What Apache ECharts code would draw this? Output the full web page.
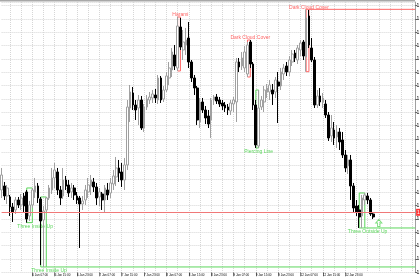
<!DOCTYPE html>
<html><head><meta charset="utf-8">
<script src="https://cdn.jsdelivr.net/npm/echarts@6/dist/echarts.min.js"></script>
<style>html,body{margin:0;padding:0;background:#fff}#c{width:420px;height:280px}</style>
</head><body><div id="c"></div>
<script>
// H1 bars, first bar = 5 Jan 20:00, weekend gap after 9 Jan 23:00
const opens = [1.1967,1.1979,1.1949,1.1946,1.1916,1.1907,1.1937,1.1922,1.1949,1.1961,1.1889,1.1922,1.1961,1.1979,1.1940,1.1877,1.1907,1.1943,1.1967,1.2003,
1.2021,1.1967,1.1949,1.1997,1.1982,1.1961,1.1973,1.1949,1.1943,1.1925,1.1937,1.1961,1.1979,1.1991,1.1976,1.1946,1.1955,1.1937,1.1967,1.1958,
1.1985,1.2006,1.2033,1.2021,1.1997,1.2042,1.2213,1.2258,1.2222,1.2213,1.2237,1.2153,1.2216,1.2237,1.2243,1.2252,1.2237,1.2303,1.2240,1.2267,
1.2303,1.2327,1.2372,1.2333,1.2456,1.2387,1.2402,1.2423,1.2351,1.2303,1.2273,1.2171,1.2231,1.2207,1.2189,1.2177,1.2237,1.2246,1.2237,1.2228,
1.2222,1.2216,1.2204,1.2225,1.2231,1.2351,1.2339,1.2333,1.2315,1.2411,1.2345,1.2222,1.2099,1.2216,1.2231,1.2261,1.2261,1.2267,1.2261,1.2291,
1.2279,1.2315,1.2339,1.2321,1.2351,1.2378,1.2357,1.2387,1.2411,1.2366,1.2489,1.2393,1.2357,1.2222,1.2249,1.2231,1.2225,1.2192,1.2129,1.2147,
1.2126,1.2141,1.2117,1.2072,1.2039,1.2057,1.1979,1.1919,1.1907,1.1889,1.1937,1.1949,1.1937,1.1895];
const closes = [1.2012,1.1949,1.1973,1.1916,1.1901,1.1937,1.1922,1.1943,1.1919,1.1880,1.1922,1.1967,1.1979,1.1943,1.1874,1.1904,1.1943,1.1973,1.2003,1.2027,
1.1967,1.1943,1.1997,1.1979,1.1958,1.1973,1.1952,1.1937,1.1925,1.1934,1.1967,1.1982,1.1997,1.1976,1.1943,1.1961,1.1937,1.1973,1.1952,1.1988,
1.2009,1.2033,1.2018,1.1997,1.2042,1.2216,1.2261,1.2222,1.2207,1.2237,1.2153,1.2216,1.2240,1.2246,1.2255,1.2243,1.2303,1.2237,1.2267,1.2309,
1.2333,1.2381,1.2339,1.2459,1.2396,1.2411,1.2417,1.2351,1.2303,1.2273,1.2177,1.2231,1.2207,1.2183,1.2165,1.2237,1.2246,1.2234,1.2225,1.2219,
1.2213,1.2207,1.2228,1.2237,1.2351,1.2336,1.2363,1.2381,1.2402,1.2345,1.2222,1.2102,1.2213,1.2237,1.2267,1.2273,1.2282,1.2255,1.2297,1.2279,
1.2321,1.2333,1.2321,1.2357,1.2375,1.2363,1.2393,1.2408,1.2369,1.2483,1.2402,1.2357,1.2222,1.2249,1.2231,1.2243,1.2192,1.2123,1.2153,1.2123,
1.2141,1.2111,1.2072,1.2033,1.2057,1.1979,1.1913,1.1901,1.1886,1.1943,1.1952,1.1937,1.1895,1.1886];
const lows = [1.1943,1.1937,1.1925,1.1889,1.1871,1.1895,1.1913,1.1907,1.1901,1.1869,1.1874,1.1913,1.1943,1.1928,1.1742,1.1736,1.1898,1.1937,1.1955,1.1973,
1.1952,1.1922,1.1940,1.1967,1.1946,1.1943,1.1937,1.1925,1.1793,1.1907,1.1922,1.1943,1.1952,1.1961,1.1922,1.1919,1.1907,1.1901,1.1937,1.1943,
1.1967,1.1979,1.1991,1.1976,1.1967,1.2027,1.2171,1.2207,1.2177,1.2162,1.2147,1.2141,1.2207,1.2225,1.2228,1.2228,1.2225,1.2228,1.2231,1.2261,
1.2282,1.2306,1.2327,1.2324,1.2387,1.2357,1.2372,1.2333,1.2291,1.2252,1.2162,1.2153,1.2198,1.2165,1.2153,1.2123,1.2222,1.2225,1.2216,1.2207,
1.2201,1.2192,1.2192,1.2201,1.2171,1.2321,1.2327,1.2321,1.2306,1.2333,1.2207,1.2093,1.2093,1.2207,1.2201,1.2243,1.2237,1.2222,1.2243,1.2168,
1.2267,1.2297,1.2309,1.2309,1.2339,1.2351,1.2345,1.2369,1.2357,1.2322,1.2393,1.2351,1.2213,1.2213,1.2219,1.2213,1.2183,1.2114,1.2111,1.2102,
1.2093,1.2087,1.2063,1.2021,1.2015,1.1937,1.1901,1.1889,1.1853,1.1853,1.1922,1.1925,1.1889,1.1880];
const highs = [1.2033,1.1991,1.1982,1.1952,1.1928,1.1946,1.1946,1.1955,1.1958,1.1967,1.1934,1.1973,1.2003,1.1988,1.1946,1.1919,1.1946,1.1982,1.2033,1.2048,
1.2033,1.1979,1.2033,1.2009,1.1997,1.1988,1.1982,1.1961,1.1949,1.1949,1.1982,1.2003,1.2012,1.2003,1.1988,1.1973,1.1961,1.1982,1.1988,1.2003,
1.2027,1.2066,1.2057,1.2048,1.2063,1.2237,1.2282,1.2276,1.2237,1.2252,1.2249,1.2225,1.2252,1.2261,1.2267,1.2270,1.2312,1.2309,1.2279,1.2321,
1.2351,1.2393,1.2402,1.2486,1.2483,1.2447,1.2453,1.2471,1.2357,1.2312,1.2279,1.2243,1.2243,1.2219,1.2207,1.2243,1.2252,1.2255,1.2246,1.2237,
1.2231,1.2225,1.2237,1.2246,1.2363,1.2363,1.2381,1.2399,1.2411,1.2417,1.2351,1.2237,1.2267,1.2249,1.2279,1.2285,1.2297,1.2285,1.2306,1.2321,
1.2333,1.2345,1.2351,1.2369,1.2387,1.2387,1.2402,1.2417,1.2417,1.2509,1.2507,1.2423,1.2366,1.2267,1.2273,1.2258,1.2237,1.2201,1.2192,1.2171,
1.2162,1.2153,1.2141,1.2087,1.2072,1.2072,1.1988,1.1937,1.1922,1.1952,1.1958,1.1958,1.1943,1.1901];

// candlestick pattern annotations
const patternNames   = ['Three Inside Up','Three Inside Up','Harami','Dark Cloud Cover','Piercing Line','Dark Cloud Cover','Three Outside Up'];
const patternFirst   = [9, 14, 63, 88, 91, 109, 128];
const patternLast    = [11, 16, 64, 89, 92, 110, 130];
const patternLabelAt = [12, 17, 64, 89, 92, 110, 131];
const patternBullish = [true, true, false, false, true, false, true];
const patternExtend  = [false, true, false, false, false, true, true];
const arrowBar = 135, arrowPrice = 1.1868;

const slotCount = 149;
const categories = [];
for (let i = 0; i < slotCount; i++) {
  const t = 20 + i + (i >= 100 ? 48 : 0);
  const day = 5 + Math.floor(t / 24), h = t % 24;
  categories.push(day + ' Jan ' + String(h).padStart(2, '0') + ':00');
}
const candles = opens.map((o, i) => [o, closes[i], lows[i], highs[i]]);
const boxes = patternNames.map((n, k) => {
  let hi = -Infinity, lo = Infinity;
  for (let b = patternFirst[k]; b <= patternLast[k]; b++) { hi = Math.max(hi, highs[b]); lo = Math.min(lo, lows[b]); }
  return [patternFirst[k], patternLast[k], hi, lo, patternLabelAt[k]];
});

const GREEN = '#5cd65c', RED = '#ff6666';
const FONT = '"Liberation Sans", Arial, sans-serif';
const chart = echarts.init(document.getElementById('c'), null, {renderer: 'canvas'});
chart.setOption({
  animation: false,
  backgroundColor: '#fff',
  grid: {left: 1.6, width: 413.5, top: 2, height: 270.3, containLabel: false, outerBoundsMode: 'none'},
  xAxis: {
    type: 'category', data: categories, boundaryGap: false,
    axisLine: {show: false},
    axisTick: {show: true, length: 4, interval: (i) => i >= 3 && i <= 133 && (i - 3) % 8 === 0, lineStyle: {color: '#333', width: 0.6}},
    axisLabel: {fontSize: 3, color: '#000', fontFamily: FONT, align: 'left', margin: 1.2,
      interval: (i) => i >= 3 && i <= 133 && (i - 3) % 8 === 0, showMinLabel: false, showMaxLabel: false},
    splitLine: {show: true, interval: (i) => (i - 3) % 4 === 0, lineStyle: {color: '#d6d6d6', type: 'dotted', width: 1}}
  },
  yAxis: {
    type: 'value', position: 'right', min: 1.1720, max: 1.2531, interval: 0.0040, scale: true,
    axisLine: {show: true, lineStyle: {color: '#a0a0a0'}},
    axisTick: {show: true, length: 2, lineStyle: {color: '#666'}},
    axisLabel: {fontSize: 5, color: '#000', fontFamily: FONT, margin: 1.5, showMaxLabel: false, formatter: (v) => v.toFixed(4)},
    splitLine: {show: true, lineStyle: {color: '#d6d6d6', type: 'dotted', width: 1}}
  },
  graphic: [{type: 'line', shape: {x1: 0, y1: 0.8, x2: 415, y2: 0.8}, style: {stroke: '#a8a8a8', lineWidth: 1.6}, silent: true}],
  series: [
    {
      type: 'custom', z: 1, clip: false,
      data: boxes, encode: {x: [0, 1, 4], y: [2, 3]},
      renderItem: (params, api) => {
        const k = params.dataIndex;
        const bull = patternBullish[k];
        const col = bull ? GREEN : RED;
        const a = api.coord([api.value(0), api.value(2)]);
        const b = api.coord([api.value(1), api.value(3)]);
        const cs = params.coordSys;
        const children = [{type: 'rect', shape: {x: a[0], y: a[1], width: b[0] - a[0], height: b[1] - a[1]},
          style: {fill: 'none', stroke: col, lineWidth: 1}}];
        if (patternExtend[k]) {
          const yy = bull ? b[1] : a[1];
          children.push({type: 'line', shape: {x1: b[0], y1: yy, x2: cs.x + cs.width, y2: yy}, style: {stroke: col, lineWidth: 1}});
        }
        const lx = api.coord([api.value(4), api.value(2)])[0];
        children.push({type: 'text', style: {text: patternNames[k], x: lx, y: bull ? b[1] + 1 : a[1] + 0.5,
          align: 'center', verticalAlign: bull ? 'top' : 'bottom', fill: col, fontSize: 5, fontFamily: FONT}});
        return {type: 'group', children};
      }
    },
    {
      type: 'candlestick', z: 2, data: candles, barWidth: 2.2,
      itemStyle: {color: '#ffffff', color0: '#000000', borderColor: '#a0a0a0', borderColor0: '#000000', borderWidth: 1},
      markLine: {
        silent: true, symbol: 'none',
        data: [{yAxis: closes[closes.length - 1]}],
        lineStyle: {color: '#f07878', type: 'solid', width: 1},
        label: {show: true, position: 'end', distance: 1, formatter: (p) => p.value.toFixed(4), fontSize: 5,
          color: '#fff', backgroundColor: '#ff3333', padding: [1, 1], fontFamily: FONT}
      }
    },
    {
      type: 'scatter', z: 3, data: [[arrowBar, arrowPrice]],
      symbol: 'path://M5,0 L10,5 L7,5 L7,10 L3,10 L3,5 L0,5 Z', symbolSize: [6, 7],
      itemStyle: {color: 'rgba(0,0,0,0)', borderColor: GREEN, borderWidth: 1}
    }
  ]
});
</script></body></html>
